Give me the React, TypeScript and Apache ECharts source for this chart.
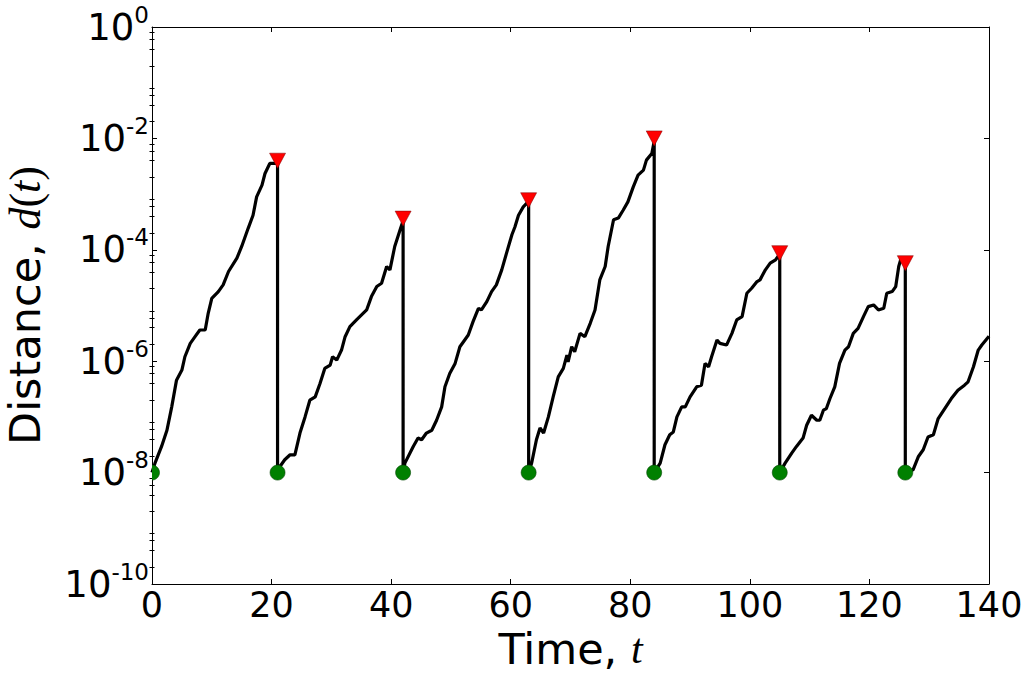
import React, { useEffect, useRef } from "react";
import * as echarts from "echarts";

// Time axis ticks and log10 y-axis decades
const xTicks = [0, 20, 40, 60, 80, 100, 120, 140];
const majorExponents = [-10, -8, -6, -4, -2, 0];
const minorMultipliers = [2, 4, 6, 8];

// Renormalisation events: distance reset to 1e-8 (log10 = -8)
const resetTimes = [0, 21, 42, 63, 84, 105, 126];
const resetLog10 = -8;

// Peak distances (log10 d) just before each reset
const peakTimes = [21, 42, 63, 84, 105, 126];
const peakLog10 = [-2.4, -3.44, -3.11, -2.0, -4.06, -4.24];

// Curve pieces [t, log10 d(t)]
const cycle1 = [
  [0, -8.0], [0.5, -7.83], [1.6, -7.53], [2.5, -7.24], [3.3, -6.82], [4.1, -6.34],
  [5.0, -6.16], [5.5, -5.92], [6.4, -5.68], [7.2, -5.56], [8.0, -5.44], [8.9, -5.44],
  [9.4, -5.14], [10.0, -4.87], [11.1, -4.75], [11.9, -4.63], [12.8, -4.39], [14.2, -4.15],
  [15.0, -3.94], [16.1, -3.61], [16.9, -3.38], [17.5, -3.05], [18.4, -2.84], [18.9, -2.63],
  [19.7, -2.45], [20.6, -2.45], [21, -2.42],
];
const cycle2 = [
  [21, -8.0], [21.4, -7.89], [22.2, -7.77], [23.1, -7.68], [23.9, -7.68], [24.75, -7.29],
  [25.6, -7.0], [26.4, -6.7], [27.3, -6.64], [28.1, -6.4], [28.9, -6.13], [29.8, -6.07],
  [30.2, -5.92], [30.9, -5.98], [31.7, -5.8], [32.3, -5.56], [33.1, -5.38], [34.2, -5.26],
  [35.9, -5.08], [36.7, -4.84], [37.6, -4.66], [38.4, -4.6], [39.25, -4.3], [39.8, -4.36],
  [40.6, -3.94], [41.5, -3.64], [42, -3.48],
];
const cycle3 = [
  [42, -8.0], [42.3, -7.83], [43.7, -7.53], [44.5, -7.38], [45.1, -7.41], [45.9, -7.29],
  [46.8, -7.24], [47.6, -7.06], [48.45, -6.82], [49.0, -6.46], [49.8, -6.22], [50.7, -6.04],
  [51.5, -5.74], [52.1, -5.65], [52.9, -5.53], [53.7, -5.29], [54.6, -5.05], [55.1, -5.08],
  [56.0, -4.93], [56.8, -4.75], [57.6, -4.63], [58.5, -4.36], [59.3, -4.06], [60.2, -3.73],
  [60.7, -3.59], [61.3, -3.38], [62.1, -3.23], [62.9, -3.14], [63, -3.12],
];
const cycle4 = [
  [63, -8.0], [63.5, -7.83], [64.3, -7.41], [64.9, -7.2], [65.5, -7.29], [66.3, -7.0],
  [67.1, -6.64], [67.95, -6.28], [68.8, -6.13], [69.4, -5.89], [69.6, -6.01], [70.2, -5.74],
  [70.7, -5.83], [71.6, -5.5], [72.4, -5.56], [73.3, -5.32], [74.1, -5.08], [74.9, -4.54],
  [75.8, -4.3], [76.3, -3.94], [77.2, -3.46], [78.0, -3.43], [78.8, -3.29], [79.6, -3.14],
  [80.5, -2.87], [81.3, -2.66], [82.2, -2.57], [82.7, -2.39], [83.6, -2.27], [84, -2.05],
];
const cycle5 = [
  [84, -8.0], [85.0, -7.83], [85.8, -7.5], [86.6, -7.32], [87.2, -7.27], [87.8, -7.0],
  [88.6, -6.82], [89.2, -6.82], [90.0, -6.64], [91.1, -6.46], [91.9, -6.43], [92.5, -6.04],
  [93.1, -6.1], [93.6, -5.92], [94.5, -5.62], [95.0, -5.68], [96.1, -5.71], [97.0, -5.5],
  [97.8, -5.26], [98.7, -5.2], [99.5, -4.78], [100.3, -4.69], [101.2, -4.57], [101.7, -4.54],
  [102.6, -4.36], [103.4, -4.24], [104.3, -4.18], [105, -4.08],
];
const cycle6 = [
  [105, -8.0], [105.9, -7.83], [107.0, -7.65], [107.8, -7.53], [108.9, -7.38], [109.5, -7.15],
  [110.3, -6.97], [111.2, -7.06], [111.7, -7.06], [112.3, -6.88], [112.8, -6.85], [113.4, -6.67],
  [114.2, -6.46], [115.0, -6.04], [115.9, -5.8], [116.5, -5.74], [117.3, -5.5], [118.1, -5.41],
  [119.0, -5.2], [119.8, -5.02], [120.7, -4.99], [121.5, -5.08], [122.4, -5.05], [122.9, -4.78],
  [123.8, -4.75], [124.4, -4.66], [124.9, -4.3], [125.3, -4.15], [126, -4.22],
];
const cycle7 = [
  [126, -8.0], [127.3, -7.95], [128.2, -7.71], [129.0, -7.59], [129.8, -7.36], [130.7, -7.32],
  [131.5, -7.03], [132.6, -6.85], [133.7, -6.67], [134.8, -6.52], [135.9, -6.43], [136.5, -6.37],
  [137.4, -6.1], [138.2, -5.8], [138.8, -5.71], [140, -5.55],
];

const FONT = "DejaVu Sans";
const MATH = "Liberation Serif";

export default function App() {
  const ref = useRef<HTMLDivElement>(null);

  useEffect(() => {
    if (!ref.current) return;
    const chart = echarts.init(ref.current, undefined, { renderer: "svg" });

    const curve = [cycle1, cycle2, cycle3, cycle4, cycle5, cycle6, cycle7].flat();
    const minorTicks: number[] = [];
    for (let k = -10; k < 0; k++) {
      for (const m of minorMultipliers) minorTicks.push(k + Math.log10(m));
    }

    const axisLine = { show: true, onZero: false, lineStyle: { color: "#000", width: 1 } };
    const yBase = { type: "value", min: -10, max: 0, splitLine: { show: false } };

    chart.setOption({
      animation: false,
      backgroundColor: "#fff",
      grid: { left: 152, right: 40, top: 27, bottom: 93, containLabel: false, outerBoundsMode: "none" },
      xAxis: [
        {
          type: "value", position: "bottom", min: 0, max: 140, interval: 20,
          axisLine,
          axisTick: { show: true, inside: true, length: 5, lineStyle: { color: "#000", width: 1 } },
          axisLabel: {
            fontSize: 35, fontFamily: FONT, color: "#000", margin: 3,
            customValues: xTicks,
          },
          splitLine: { show: false },
          name: "{a|Time, }{i|t}",
          nameLocation: "middle",
          nameGap: 43,
          nameTextStyle: {
            rich: {
              a: { fontSize: 43, fontFamily: FONT, color: "#000" },
              i: { fontSize: 42, fontFamily: MATH, fontStyle: "italic", color: "#000" },
            },
          },
        },
        {
          type: "value", position: "top", min: 0, max: 140, interval: 20,
          axisLine,
          axisTick: { show: true, inside: true, length: 5, lineStyle: { color: "#000", width: 1 } },
          axisLabel: { show: false },
          splitLine: { show: false },
        },
      ],
      yAxis: [
        {
          ...yBase, position: "left",
          axisLine,
          axisTick: { show: true, inside: true, length: 5, customValues: majorExponents, lineStyle: { color: "#000", width: 1 } },
          axisLabel: {
            show: true, margin: 3, customValues: majorExponents,
            formatter: (v: number) => `{b|10}{s|${Math.round(v)}}`,
            rich: {
              b: { fontSize: 37, fontFamily: FONT, color: "#000", lineHeight: 48 },
              s: { fontSize: 23, fontFamily: FONT, color: "#000", lineHeight: 23, padding: [0, 0, 25, 0] },
            },
          },
          name: "{a|Distance, }{i|d}{p|(}{i|t}{p|)}",
          nameLocation: "middle",
          nameRotate: 90,
          nameGap: 105,
          nameTextStyle: {
            rich: {
              a: { fontSize: 43, fontFamily: FONT, color: "#000" },
              i: { fontSize: 44, fontFamily: MATH, fontStyle: "italic", color: "#000" },
              p: { fontSize: 44, fontFamily: MATH, color: "#000" },
            },
          },
        },
        {
          ...yBase, position: "left",
          axisLine: { show: false },
          axisTick: { show: true, inside: true, length: 2.5, customValues: minorTicks, lineStyle: { color: "#000", width: 1 } },
          axisLabel: { show: false },
        },
        {
          ...yBase, position: "right",
          axisLine,
          axisTick: { show: true, inside: true, length: 5, customValues: majorExponents, lineStyle: { color: "#000", width: 1 } },
          axisLabel: { show: false },
        },
        {
          ...yBase, position: "right",
          axisLine: { show: false },
          axisTick: { show: true, inside: true, length: 2.5, customValues: minorTicks, lineStyle: { color: "#000", width: 1 } },
          axisLabel: { show: false },
        },
      ],
      series: [
        {
          type: "line",
          data: curve,
          xAxisIndex: 0, yAxisIndex: 0,
          showSymbol: false, symbol: "none",
          lineStyle: { color: "#000", width: 3.2 },
          clip: true,
          z: 2,
        },
        {
          type: "custom",
          xAxisIndex: 0, yAxisIndex: 0,
          data: resetTimes.map((t) => [t, resetLog10]),
          clip: true,
          z: 4,
          renderItem: (params: any, api: any) => {
            const p = api.coord([api.value(0), api.value(1)]);
            return {
              type: "circle",
              shape: { cx: p[0], cy: p[1], r: 7.5 },
              style: { fill: "#008000", stroke: "#004400", lineWidth: 0.6 },
            };
          },
        },
        {
          type: "scatter",
          xAxisIndex: 0, yAxisIndex: 0,
          data: peakTimes.map((t, i) => [t, peakLog10[i]]),
          symbol: "triangle",
          symbolRotate: 180,
          symbolSize: [16, 15],
          itemStyle: { color: "#ff0000", borderColor: "#7a0000", borderWidth: 0.5, opacity: 1 },
          z: 5,
        },
      ],
    });

    return () => chart.dispose();
  }, []);

  return (
    <div
      ref={ref}
      style={{ position: "absolute", left: 0, top: 0, width: 1029, height: 677, background: "#fff" }}
    />
  );
}
